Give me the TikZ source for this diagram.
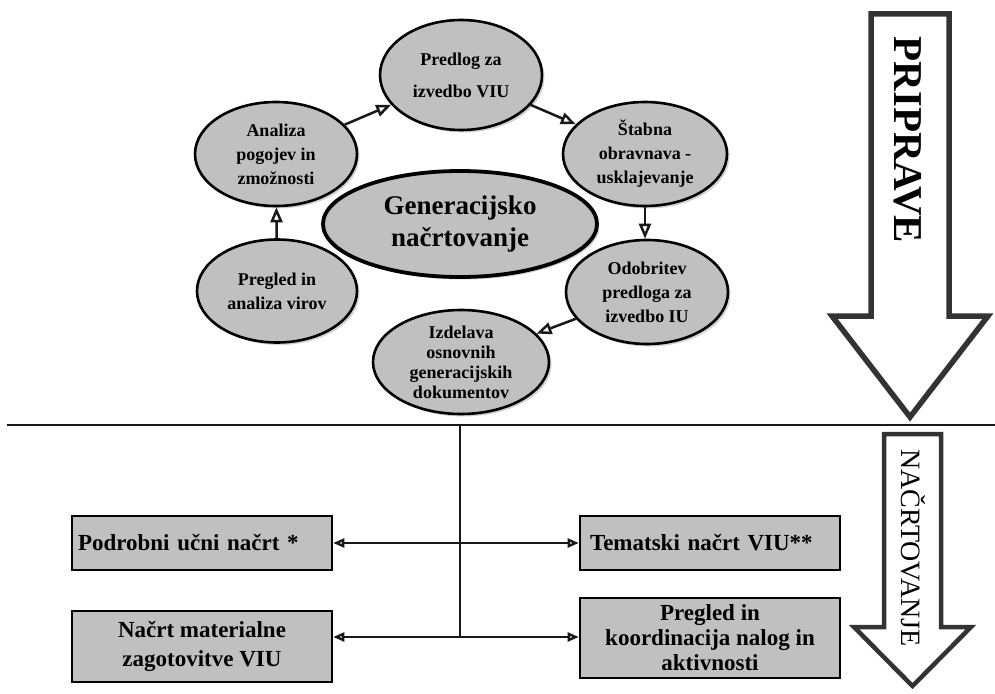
\documentclass[tikz,border=0pt]{standalone}
\usepackage{fontspec}
\setmainfont{Liberation Serif}
\usetikzlibrary{arrows.meta,shapes.geometric,shadows}
\definecolor{fillgray}{HTML}{C0C0C0}
\definecolor{arrowgray}{HTML}{333333}
\tikzset{
  oval/.style={ellipse, draw=black, line width=2.6pt, fill=fillgray, align=center,
    inner sep=0pt, font=\fontsize{18}{24}\selectfont\bfseries,
    drop shadow={shadow xshift=2.5pt, shadow yshift=-2.5pt, opacity=0.35}},
  stepbox/.style={rectangle, draw=black, line width=2.6pt, fill=fillgray,
    minimum width=260pt, inner xsep=6pt, font=\fontsize{23}{29}\selectfont\bfseries},
  looparrow/.style={line width=2.5pt, draw=black!90,
    -{Triangle[open, length=15pt, width=12pt, fill=white]}},
  biarrow/.style={line width=2.4pt, draw=black!90,
    {Triangle[open, length=11pt, width=9pt, fill=white]}-{Triangle[open, length=11pt, width=9pt, fill=white]}},
  bigarrow/.style={draw=arrowgray, fill=white, line join=miter},
}
\begin{document}
\begin{tikzpicture}[x=1pt, y=-1pt]
\useasboundingbox (0,0) rectangle (995,693);

% top cycle
\node[oval, minimum width=162pt, minimum height=110pt] (pred) at (461,75) {Predlog za\\[8pt]izvedbo VIU};
\node[oval, minimum width=162pt, minimum height=104pt] (anal) at (276,154) {Analiza\\pogojev in\\zmožnosti};
\node[oval, minimum width=164pt, minimum height=104pt] (stab) at (645,154) {Štabna\\obravnava -\\usklajevanje};
\node[oval, minimum width=274pt, minimum height=106pt, line width=3.8pt,
      font=\fontsize{27}{32}\selectfont\bfseries] (gen) at (460,224) {Generacijsko\\načrtovanje};
\node[oval, minimum width=160pt, minimum height=103pt] (preg) at (277,291) {Pregled in\\analiza virov};
\node[oval, minimum width=162pt, minimum height=104pt] (odob) at (647,292) {Odobritev\\predloga za\\izvedbo IU};
\node[oval, minimum width=176pt, minimum height=104pt,
      font=\fontsize{18}{20}\selectfont\bfseries] (izd) at (461,362) {Izdelava\\osnovnih\\generacijskih\\dokumentov};

\draw[looparrow] (preg) -- (anal);
\draw[looparrow] (anal) -- (pred);
\draw[looparrow] (pred) -- (stab);
\draw[looparrow] (stab.south) -- (stab.south |- odob.north);
\draw[looparrow] (odob) -- (izd);

% divider and trunk
\coordinate (HL) at (7,425);
\coordinate (HR) at (995,425);
\coordinate (J0) at (460,425);
\coordinate (J2) at (460,637);
\draw[line width=2.4pt, black!90] (HL) -- (HR);
\draw[line width=2.2pt, black!90] (J0) -- (J2);

% boxes
\node[stepbox, minimum height=54pt, text width=248pt, align=left] (podr) at (202,543) {Podrobni učni načrt *};
\node[stepbox, minimum height=54pt, text width=240pt, align=left, inner xsep=10pt] (tema) at (710,543) {Tematski načrt VIU**};
\node[stepbox, minimum height=71pt, align=center] (nacrt) at (202,646.5) {Načrt materialne\\zagotovitve VIU};
\node[stepbox, minimum height=80pt, align=center, font=\fontsize{23}{25}\selectfont\bfseries] (koord) at (710,638) {Pregled in\\koordinacija nalog in\\aktivnosti};

\draw[biarrow] (podr) -- (tema);
\draw[biarrow] (nacrt.east |- J2) -- (koord.west |- J2);

% big arrows
\draw[bigarrow, line width=5.5pt] (871,14) -- (949,14) -- (949,316) -- (988,316) -- (910,417) -- (832,316) -- (871,316) -- cycle;
\node[rotate=-90, font=\fontsize{41}{41}\selectfont\bfseries] (pripr) at (908,140) {PRIPRAVE};
\draw[bigarrow, line width=4.5pt] (884,434) -- (941,434) -- (941,627) -- (971,627) -- (912.5,686) -- (854,627) -- (884,627) -- cycle;
\node[rotate=-90, font=\fontsize{28}{28}\selectfont] (nacrtov) at (913,548) {NAČRTOVANJE};
\end{tikzpicture}
\end{document}
